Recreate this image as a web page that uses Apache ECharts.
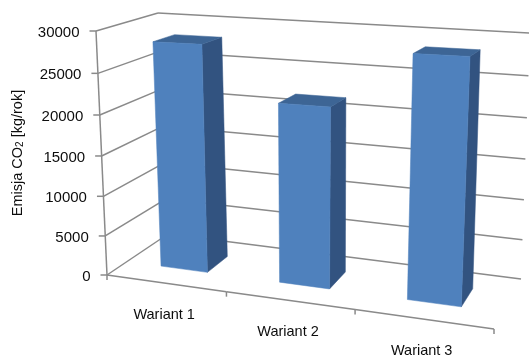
<!DOCTYPE html>
<html><head><meta charset="utf-8">
<style>html,body{margin:0;padding:0;background:#fff}#c{width:529px;height:358px}</style>
<script src="https://cdn.jsdelivr.net/npm/echarts@6/dist/echarts.min.js"></script>
</head><body><div id="c"></div>
<script>
const categories = ['Wariant 1', 'Wariant 2', 'Wariant 3'];
const values = [28200, 21800, 28400];
const yTicks = [0, 5000, 10000, 15000, 20000, 25000, 30000];

const FONT = '"Liberation Sans", Arial, sans-serif';
const TEXT = '#0d0d0d', LINE = '#8a8a8a';
const FRONT = '#4f81bd', SIDE = '#325380', TOP = '#3d6595';
const barFrac = 0.4, wFront = 0.33, wBack = 0.70;

// Corners of the 3D plot box on screen (perspective frame)
const C = {
  flb: [107, 275], frb: [494, 329], blb: [168, 234], brb: [521, 279],
  flt: [96, 31], frt: [507, 49], blt: [158, 13], brt: [530, 33]
};
const sU = 0.12, sV = 0.05;
function mix(a, b, t) { return [a[0] + (b[0] - a[0]) * t, a[1] + (b[1] - a[1]) * t]; }
function project(u, v, w) {
  const t = u / (1 + sU * (1 - u));
  const tv = v / (1 + sV * (1 - v));
  const bottom = mix(mix(C.flb, C.frb, t), mix(C.blb, C.brb, t), w);
  const top = mix(mix(C.flt, C.frt, t), mix(C.blt, C.brt, t), w);
  return mix(bottom, top, tv);
}
function fracs(params, api, cat, val) {
  const cs = params.coordSys;
  const p = api.coord([cat, val]);
  return { u: (p[0] - cs.x) / cs.width, v: (cs.y + cs.height - p[1]) / cs.height };
}
function line(a, b, w) {
  return { type: 'line', shape: { x1: a[0], y1: a[1], x2: b[0], y2: b[1] },
    style: { stroke: LINE, lineWidth: w || 1.5 }, silent: true };
}
function poly(pts, fill) {
  return { type: 'polygon', shape: { points: pts }, style: { fill: fill, stroke: fill, lineWidth: 0.5 }, silent: true };
}

function renderGrid(params, api) {
  const val = api.value(1);
  const { v } = fracs(params, api, 0, val);
  const a = project(0, v, 0), b = project(0, v, 1), c = project(1, v, 1);
  return { type: 'group', children: [
    line(a, b), line(b, c),
    line([a[0] - 6.5, a[1]], a),
    { type: 'text', silent: true, style: { x: a[0] - 16.5, y: a[1] + 1.5, text: String(val), align: 'right',
      verticalAlign: 'middle', fill: TEXT, font: '15px ' + FONT } }
  ] };
}
function renderFloor(params, api) {
  const i = api.value(0);
  const band = api.size([1, 0])[0] / params.coordSys.width;
  const { u } = fracs(params, api, i, 0);
  const ch = [];
  const r = project(u + band / 2, 0, 0);
  ch.push(line(r, [r[0], r[1] + 5]));
  const prev = project(u - band / 2, 0, 0);
  ch.push(line(prev, r));
  if (i === 0) ch.push(line([prev[0], prev[1]], [prev[0], prev[1] + 5]), line(project(0, 0, 0), [C.flt[0], C.flt[1]]));
  const l = project(u, 0, 0);
  ch.push({ type: 'text', silent: true, style: { x: l[0] - 1.5, y: l[1] + 32, text: categories[i], align: 'center',
    verticalAlign: 'middle', fill: TEXT, font: '14.5px ' + FONT } });
  return { type: 'group', children: ch };
}
function renderBar(params, api) {
  const i = api.value(0);
  const band = api.size([1, 0])[0] / params.coordSys.width;
  const { u, v } = fracs(params, api, i, api.value(1));
  const u0 = u - band * barFrac / 2, u1 = u + band * barFrac / 2;
  return { type: 'group', children: [
    poly([project(u1, 0, wFront), project(u1, 0, wBack), project(u1, v, wBack), project(u1, v, wFront)], SIDE),
    poly([project(u0, v, wFront), project(u1, v, wFront), project(u1, v, wBack), project(u0, v, wBack)], TOP),
    poly([project(u0, 0, wFront), project(u1, 0, wFront), project(u1, v, wFront), project(u0, v, wFront)], FRONT)
  ] };
}

const chart = echarts.init(document.getElementById('c'), null, { renderer: 'canvas' });
chart.setOption({
  animation: false,
  backgroundColor: '#fff',
  grid: { left: 107, right: 35, top: 31, bottom: 83 },
  xAxis: { type: 'category', data: categories, show: false },
  yAxis: {
    type: 'value', min: 0, max: 30000, interval: 5000,
    axisLine: { show: false }, axisTick: { show: false }, axisLabel: { show: false }, splitLine: { show: false },
    name: '{a|Emisja CO}{s|2}{a| [kg/rok]}', nameLocation: 'middle', nameRotate: 90, nameGap: 90,
    nameTextStyle: { rich: {
      a: { fontFamily: FONT, fontSize: 14.5, color: TEXT },
      s: { fontFamily: FONT, fontSize: 10, color: TEXT, verticalAlign: 'bottom', lineHeight: 10, padding: [7, 0, 0, 0] }
    } }
  },
  series: [
    { type: 'custom', z: 1, clip: false, silent: true, renderItem: renderGrid, data: yTicks.map(v => [0, v]) },
    { type: 'custom', z: 2, clip: false, silent: true, renderItem: renderFloor, data: categories.map((c, i) => [i, 0]) },
    { type: 'custom', z: 3, clip: false, silent: true, renderItem: renderBar, data: values.map((v, i) => [i, v]) }
  ]
});
</script></body></html>
